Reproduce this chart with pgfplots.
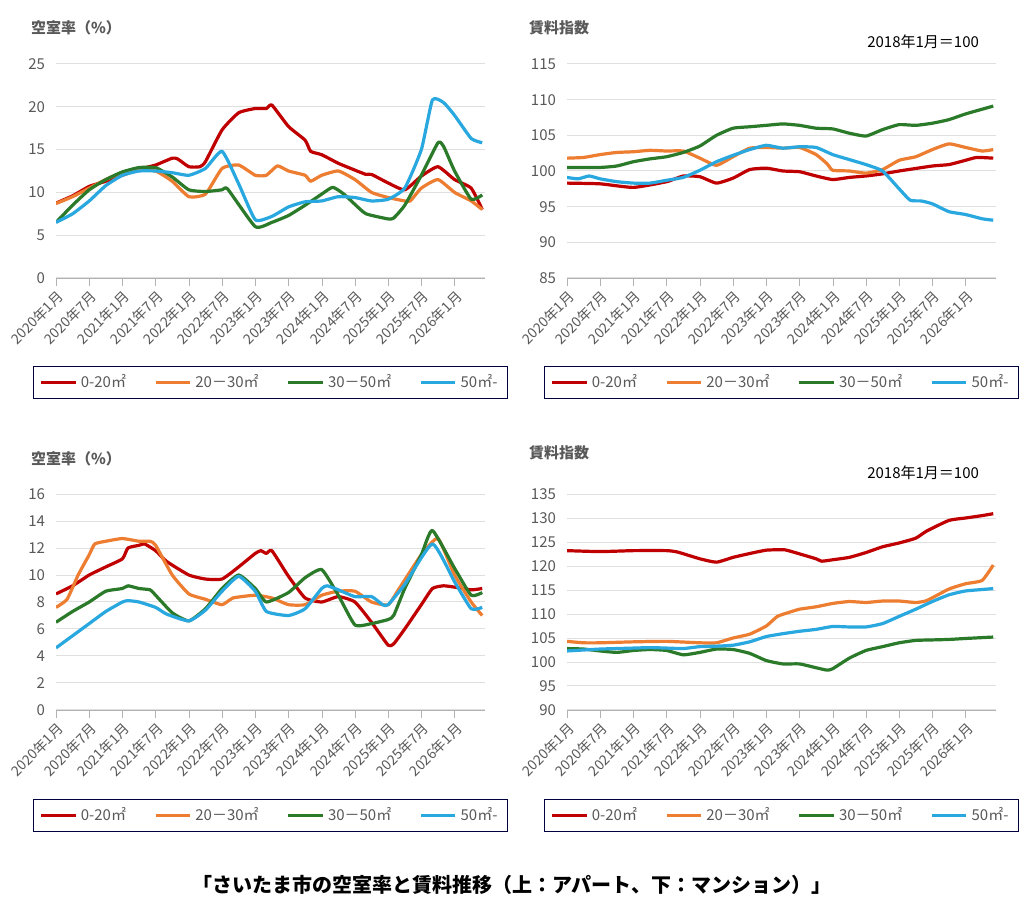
\documentclass[border=0pt]{standalone}
\usepackage{pgfplots}
\pgfplotsset{compat=1.18}
\usepackage{fontspec}
\setmainfont{Noto Sans CJK JP}
\definecolor{cR}{HTML}{C00000}
\definecolor{cO}{HTML}{ED7D31}
\definecolor{cG}{HTML}{2A7A2A}
\definecolor{cB}{HTML}{29A8DF}
\definecolor{txt}{HTML}{595959}
\pgfplotsset{mystyle/.style={
  scale only axis, width=214.5pt, height=107pt,
  xmin=0, xmax=77.5,
  axis x line=bottom, axis y line=left, axis line style={-},
  y axis line style={draw=none}, ytick style={draw=none},
  x axis line style={draw=gray!60},
  xtick={0,6,...,72}, xtick style={draw=gray!60}, xtick align=outside, major tick length=4pt,
  xticklabels={2020年1月,2020年7月,2021年1月,2021年7月,2022年1月,2022年7月,2023年1月,2023年7月,2024年1月,2024年7月,2025年1月,2025年7月,2026年1月},
  xticklabel style={rotate=45, anchor=north east, font=\fontsize{7}{8}\selectfont, text=txt, inner sep=1pt},
  yticklabel style={font=\fontsize{7.5}{8}\selectfont, text=txt},
  /pgf/number format/assume math mode=true,
  ymajorgrids, grid style={gray!25, line width=0.5pt},
  every axis plot/.append style={line width=1.6pt, line join=round, smooth, tension=0.3},
  legend columns=4,
  legend style={at={(0.5,-0.41)}, anchor=north, draw=black!75!blue, line width=0.6pt,
    font=\fontsize{7.5}{9}\selectfont, text=txt, /tikz/every even column/.append style={column sep=12pt}},
  legend image post style={line width=1.6pt},
  legend cell align=left,
}}
\begin{document}
\begin{tikzpicture}[x=1pt,y=1pt]
\fill[white] (0,0) rectangle (512,455.5);
\node[anchor=west, font=\fontsize{7.5}{9}\selectfont\bfseries, text=txt] at (12,441.5) {空室率（\%）};
\node[anchor=west, font=\fontsize{7.5}{9}\selectfont\bfseries, text=txt] at (261,441.5) {賃料指数};
\node[anchor=east, font=\fontsize{7.5}{9}\selectfont, text=black] at (493,434.5) {2018年1月＝100};
\node[anchor=west, font=\fontsize{7.5}{9}\selectfont\bfseries, text=txt] at (12,226) {空室率（\%）};
\node[anchor=west, font=\fontsize{7.5}{9}\selectfont\bfseries, text=txt] at (261,229) {賃料指数};
\node[anchor=east, font=\fontsize{7.5}{9}\selectfont, text=black] at (493,219) {2018年1月＝100};
\node[font=\fontsize{10}{12}\selectfont\bfseries] at (256,13) {「さいたま市の空室率と賃料推移（上：アパート、下：マンション）」};

\begin{axis}[mystyle, at={(28pt,316.5pt)}, anchor=south west, ymin=0, ymax=25, ytick={0,5,...,25}]
\addplot[cR] coordinates {(0,8.75)(3,9.6)(6,10.7)(9,11.3)(12,12.0)(15,12.7)(18,13.2)(21,14.0)(22,13.9)(24,13.0)(26,13.0)(27,13.6)(30,17.3)(33,19.3)(36,19.8)(38,19.8)(39,20.2)(42,17.7)(45,16.1)(46,14.8)(48,14.4)(51,13.4)(54,12.6)(56,12.1)(57,12.1)(60,11.1)(63,10.3)(66,11.9)(69,13.0)(72,11.5)(75,10.5)(77,8.0)};
\addplot[cO] coordinates {(0,8.7)(3,9.5)(6,10.5)(9,11.5)(12,12.3)(15,12.6)(18,12.5)(21,11.3)(24,9.5)(27,9.8)(30,12.8)(33,13.2)(36,12.0)(38,12.0)(40,13.1)(42,12.5)(45,12.0)(46,11.3)(48,12.0)(51,12.5)(54,11.5)(57,10.0)(60,9.4)(63,9.0)(64,9.0)(66,10.5)(69,11.5)(72,10.0)(75,9.0)(77,8.0)};
\addplot[cG] coordinates {(0,6.5)(3,8.5)(6,10.3)(9,11.5)(12,12.4)(15,12.9)(18,12.9)(21,11.8)(24,10.3)(27,10.1)(30,10.3)(31,10.4)(36,6.0)(39,6.5)(42,7.3)(45,8.5)(48,9.8)(50,10.6)(52,9.8)(54,8.6)(56,7.5)(60,6.9)(61,7.0)(63,8.5)(66,12.0)(69,15.8)(70,15.4)(72,12.5)(75,9.2)(77,9.7)};
\addplot[cB] coordinates {(0,6.5)(3,7.5)(6,9.0)(9,10.8)(12,12.0)(15,12.5)(18,12.5)(21,12.3)(24,12.0)(27,12.8)(30,14.8)(33,11.0)(36,6.8)(39,7.2)(42,8.3)(45,8.9)(48,9.0)(51,9.5)(54,9.4)(57,9.0)(60,9.2)(63,10.5)(66,15.0)(68,20.8)(70,20.5)(72,19.0)(75,16.3)(77,15.8)};
\legend{0-20㎡,20－30㎡,30－50㎡,50㎡-}
\end{axis}

\begin{axis}[mystyle, at={(283.5pt,316.5pt)}, anchor=south west, ymin=85, ymax=115, ytick={85,90,...,115}]
\addplot[cR] coordinates {(0,98.3)(6,98.2)(12,97.7)(18,98.5)(21,99.3)(24,99.2)(27,98.3)(30,99.0)(33,100.2)(36,100.4)(39,100.0)(42,99.9)(45,99.3)(48,98.8)(51,99.1)(54,99.3)(57,99.6)(60,100.0)(66,100.7)(69,100.9)(72,101.5)(74,101.9)(77,101.8)};
\addplot[cO] coordinates {(0,101.8)(3,101.9)(6,102.3)(9,102.6)(12,102.7)(15,102.9)(18,102.8)(21,102.8)(24,101.8)(27,100.8)(30,102.0)(33,103.2)(36,103.3)(39,103.2)(42,103.3)(45,102.3)(47,101.0)(48,100.1)(51,100.0)(54,99.7)(57,100.2)(60,101.5)(63,102.0)(66,103.0)(69,103.8)(72,103.3)(75,102.8)(77,103.0)};
\addplot[cG] coordinates {(0,100.5)(6,100.5)(9,100.7)(12,101.3)(15,101.7)(18,102.0)(21,102.6)(24,103.5)(27,105.0)(30,106.0)(33,106.2)(36,106.4)(39,106.6)(42,106.4)(45,106.0)(48,105.9)(51,105.3)(54,104.9)(57,105.8)(60,106.5)(63,106.4)(66,106.7)(69,107.2)(72,108.0)(77,109.1)};
\addplot[cB] coordinates {(0,99.1)(2,98.9)(4,99.3)(6,98.9)(9,98.5)(12,98.3)(15,98.3)(18,98.7)(21,99.1)(24,100.1)(27,101.3)(30,102.2)(33,103.0)(36,103.6)(39,103.2)(42,103.4)(45,103.3)(48,102.3)(51,101.6)(54,100.9)(57,100.0)(60,97.5)(62,95.9)(64,95.8)(66,95.4)(69,94.3)(72,93.9)(75,93.3)(77,93.1)};
\legend{0-20㎡,20－30㎡,30－50㎡,50㎡-}
\end{axis}

\begin{axis}[mystyle, height=108pt, at={(28pt,100.5pt)}, anchor=south west, ymin=0, ymax=16, ytick={0,2,...,16}]
\addplot[cR] coordinates {(0,8.6)(3,9.2)(6,10.0)(9,10.6)(12,11.2)(13,12.0)(15,12.2)(16,12.3)(18,11.8)(20,11.0)(24,10.0)(27,9.7)(30,9.7)(33,10.6)(36,11.6)(37,11.8)(38,11.6)(39,11.8)(42,9.9)(45,8.3)(48,8.0)(51,8.4)(54,8.0)(57,6.5)(60,4.8)(61,4.9)(63,6.0)(66,7.8)(68,9.0)(70,9.2)(72,9.1)(75,8.9)(77,9.0)};
\addplot[cO] coordinates {(0,7.6)(2,8.2)(4,10.0)(6,11.5)(7,12.3)(9,12.5)(12,12.7)(15,12.5)(17,12.5)(18,12.2)(21,10.0)(24,8.6)(27,8.2)(30,7.8)(32,8.3)(36,8.5)(39,8.3)(42,7.8)(45,7.8)(48,8.5)(51,8.8)(54,8.8)(57,8.0)(60,7.8)(62,9.0)(66,11.5)(69,12.7)(72,10.0)(75,8.0)(77,7.0)};
\addplot[cG] coordinates {(0,6.5)(3,7.3)(6,8.0)(9,8.8)(12,9.0)(13,9.2)(15,9.0)(17,8.9)(18,8.5)(21,7.2)(24,6.6)(27,7.5)(30,9.0)(33,10.0)(36,9.0)(38,8.0)(42,8.7)(45,9.8)(48,10.4)(51,8.5)(54,6.3)(57,6.4)(60,6.7)(61,7.0)(63,9.0)(66,11.5)(68,13.3)(72,10.5)(75,8.5)(77,8.7)};
\addplot[cB] coordinates {(0,4.6)(3,5.5)(6,6.4)(9,7.3)(12,8.0)(13,8.1)(15,8.0)(18,7.6)(20,7.1)(24,6.6)(27,7.4)(30,8.8)(33,9.9)(36,8.8)(38,7.3)(42,7.0)(45,7.5)(48,9.0)(49,9.2)(51,8.9)(54,8.4)(57,8.4)(59,7.8)(60,7.8)(63,9.3)(68,12.3)(72,9.5)(75,7.5)(77,7.6)};
\legend{0-20㎡,20－30㎡,30－50㎡,50㎡-}
\end{axis}

\begin{axis}[mystyle, height=108pt, at={(283.5pt,100.5pt)}, anchor=south west, ymin=90, ymax=135, ytick={90,95,...,135}]
\addplot[cR] coordinates {(0,123.2)(6,123.0)(12,123.2)(18,123.2)(20,122.9)(24,121.5)(27,120.8)(30,121.8)(33,122.6)(36,123.3)(39,123.4)(40,123.2)(45,121.5)(46,121.0)(48,121.3)(51,121.8)(54,122.8)(57,124.0)(60,124.8)(63,125.8)(65,127.3)(69,129.5)(72,130.0)(75,130.5)(77,130.9)};
\addplot[cO] coordinates {(0,104.3)(3,104.0)(6,104.0)(12,104.2)(18,104.3)(24,104.0)(27,104.0)(30,105.0)(33,105.8)(36,107.5)(38,109.5)(40,110.3)(42,111.0)(45,111.5)(48,112.2)(51,112.6)(54,112.4)(57,112.7)(60,112.7)(63,112.4)(65,112.8)(69,115.2)(72,116.3)(75,117.0)(77,120.2)};
\addplot[cG] coordinates {(0,102.8)(3,102.7)(6,102.3)(9,102.0)(12,102.4)(15,102.6)(18,102.4)(21,101.5)(24,102.0)(27,102.7)(30,102.6)(33,101.8)(36,100.3)(39,99.6)(42,99.6)(45,98.8)(47,98.3)(48,98.6)(51,100.8)(54,102.4)(57,103.2)(60,104.0)(63,104.5)(66,104.6)(69,104.7)(72,104.9)(77,105.2)};
\addplot[cB] coordinates {(0,102.3)(3,102.5)(6,102.7)(9,102.8)(12,102.9)(15,103.0)(18,102.9)(21,102.8)(24,103.2)(27,103.3)(30,103.5)(33,104.2)(36,105.3)(39,105.9)(42,106.4)(45,106.8)(48,107.4)(51,107.3)(54,107.3)(57,108.0)(60,109.5)(63,111.0)(66,112.6)(69,114.0)(72,114.8)(75,115.1)(77,115.3)};
\legend{0-20㎡,20－30㎡,30－50㎡,50㎡-}
\end{axis}
\end{tikzpicture}
\end{document}
